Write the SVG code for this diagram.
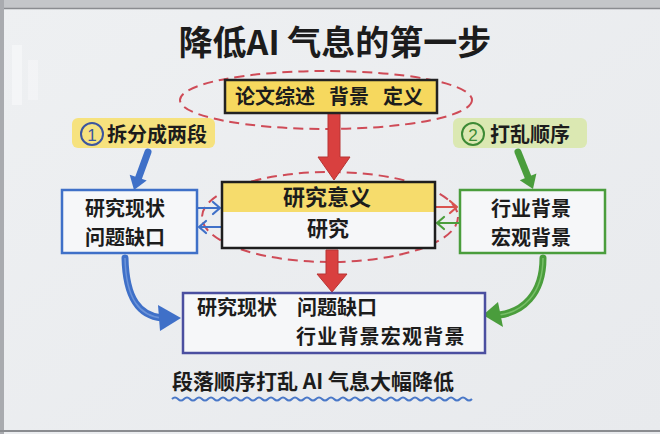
<svg xmlns="http://www.w3.org/2000/svg" width="660" height="434" viewBox="0 0 660 434">
<style>
text{font-family:"Noto Sans CJK SC","Noto Sans",sans-serif;fill:#1c1c1c;}
.t{font-size:21px;font-weight:600;}
.t2{font-size:20px;font-weight:600;}
.mid{text-anchor:middle;}
.ell{fill:none;stroke:#cf4b57;stroke-width:2;stroke-dasharray:10 6;}
.thin{fill:none;stroke-width:2.2;stroke-linecap:round;stroke-linejoin:round;}
</style>
<defs>
<linearGradient id="bg" x1="0" y1="0" x2="1" y2="1">
<stop offset="0" stop-color="#eef0f2"/>
<stop offset="1" stop-color="#e8eaed"/>
</linearGradient>
</defs>
<rect x="0" y="0" width="660" height="434" fill="url(#bg)"/>
<rect x="0" y="0" width="660" height="8" fill="#c4c6c9"/>
<line x1="0" y1="8.5" x2="660" y2="8.5" stroke="#8a8c90" stroke-width="1.5"/>
<rect x="0" y="0" width="4" height="434" fill="#a9abaf"/>
<line x1="0" y1="431" x2="660" y2="431" stroke="#8a8c90" stroke-width="2"/>
<rect x="12" y="45" width="10" height="60" fill="#f7f8f9" opacity="0.7"/>
<rect x="28" y="60" width="10" height="40" fill="#f7f8f9" opacity="0.5"/>

<text x="335" y="55" class="mid" style="font-size:34px;font-weight:700;">降低AI 气息的第一步</text>

<g id="ellipses">
<ellipse class="ell" cx="326" cy="100" rx="146" ry="29"/>
<ellipse class="ell" cx="330" cy="217" rx="128" ry="45"/>
</g>

<g id="connectors">
<path d="M328,113 H340 V157 H350 L334,180 L318,157 H328 Z" fill="#d9403f" stroke="#b83434" stroke-width="1"/>
<path d="M326,250 H338 V274 H347 L332,292 L317,274 H326 Z" fill="#d9403f" stroke="#b83434" stroke-width="1"/>
<line x1="148" y1="152" x2="138.5" y2="178" stroke="#3f70c8" stroke-width="7" stroke-linecap="round"/>
<polygon points="146.7,180.6 134,190 129.7,174.8" fill="#3f70c8"/>
<line x1="518" y1="152" x2="528" y2="177" stroke="#4a9d3c" stroke-width="7" stroke-linecap="round"/>
<polygon points="536.4,173.6 533,189 519.8,180.3" fill="#4a9d3c"/>
<path class="thin" stroke="#3f70c8" d="M198,208 H220 M213,202 L220,208 L213,214"/>
<path class="thin" stroke="#3f70c8" d="M221,227 H199 M206,221 L199,227 L206,233"/>
<path class="thin" stroke="#d9534f" d="M436,207 H457 M450,201 L457,207 L450,213"/>
<path class="thin" stroke="#4a9d3c" d="M459,223 H437 M444,217 L437,223 L444,229"/>
<path d="M125,258 C126,300 140,316 162,318" fill="none" stroke="#3f70c8" stroke-width="7" stroke-linecap="round"/>
<path d="M125,258 C126,300 140,316 162,318" fill="none" stroke="#7fa3e0" stroke-width="1.5" opacity="0.7"/>
<polygon points="158,305 181,318 160,331" fill="#3f70c8"/>
<path d="M543,258 C543,295 522,312 499,315" fill="none" stroke="#4a9d3c" stroke-width="7" stroke-linecap="round"/>
<path d="M543,258 C543,295 522,312 499,315" fill="none" stroke="#8ccf7a" stroke-width="1.5" opacity="0.7"/>
<polygon points="498,302 483,315 503,327" fill="#4a9d3c"/>
</g>

<g id="top-box">
<rect x="225" y="80" width="212" height="33" fill="#f6d85e" stroke="#222" stroke-width="2.5"/>
<text y="104" class="t" style="font-size:20px;"><tspan x="235">论文综述</tspan><tspan x="329">背景</tspan><tspan x="383">定义</tspan></text>
</g>

<g id="label-1">
<rect x="72" y="118" width="143" height="30" rx="6" fill="#f6e27e"/>
<circle cx="92" cy="134" r="11" fill="none" stroke="#3c559f" stroke-width="2"/>
<text x="92" y="141" class="mid" style="font-size:17px;fill:#3c559f;font-family:'Liberation Sans',sans-serif;">1</text>
<text x="107" y="142" class="t" style="font-size:20px;">拆分成两段</text>
</g>

<g id="label-2">
<rect x="453" y="118" width="134" height="30" rx="6" fill="#dbe8b2"/>
<circle cx="473" cy="134" r="11" fill="none" stroke="#3d8a35" stroke-width="2"/>
<text x="473" y="141" class="mid" style="font-size:17px;fill:#3d8a35;font-family:'Liberation Sans',sans-serif;">2</text>
<text x="490" y="142" class="t" style="font-size:20px;">打乱顺序</text>
</g>

<g id="blue-box">
<rect x="62" y="190" width="135" height="63" fill="#f6f7f9" stroke="#3f70c8" stroke-width="2.5"/>
<text x="125" y="216" class="t2 mid">研究现状</text>
<text x="125" y="245" class="t2 mid">问题缺口</text>
</g>

<g id="middle-box">
<rect x="222" y="182" width="213" height="66" fill="#f6f7f9"/>
<rect x="222" y="182" width="213" height="30" fill="#f6dc6c"/>
<rect x="222" y="182" width="213" height="66" fill="none" stroke="#1e1e1e" stroke-width="2.5"/>
<text x="327" y="205" class="t mid" style="font-size:22px;">研究意义</text>
<text x="328" y="236" class="t mid">研究</text>
</g>

<g id="green-box">
<rect x="460" y="190" width="145" height="63" fill="#f6f7f9" stroke="#4a9d3c" stroke-width="2.5"/>
<text x="531" y="216" class="t2 mid">行业背景</text>
<text x="531" y="245" class="t2 mid">宏观背景</text>
</g>

<g id="bottom-box">
<rect x="183" y="293" width="302" height="60" fill="#f6f7f9" stroke="#4b4fa0" stroke-width="2.5"/>
<text y="315" class="t2"><tspan x="197">研究现状</tspan><tspan x="297">问题缺口</tspan></text>
<text x="296" y="344" class="t2" style="letter-spacing:1.2px;">行业背景宏观背景</text>
</g>

<g id="caption">
<text x="172" y="389" class="t">段落顺序打乱 AI 气息大幅降低</text>
<path d="M172,399 q3,-3 6,0 t6,0 t6,0 t6,0 t6,0 t6,0 t6,0 t6,0 t6,0 t6,0 t6,0 t6,0 t6,0 t6,0 t6,0 t6,0 t6,0 t6,0 t6,0 t6,0 t6,0 t6,0 t6,0 t6,0 t6,0 t6,0 t6,0 t6,0 t6,0 t6,0 t6,0 t6,0 t6,0 t6,0 t6,0 t6,0 t6,0 t6,0 t6,0 t6,0 t6,0 t6,0 t6,0 t6,0 t6,0 t6,0 t6,0 t6,0 t6,0 t6,0" fill="none" stroke="#4a78c8" stroke-width="2"/>
</g>
</svg>
